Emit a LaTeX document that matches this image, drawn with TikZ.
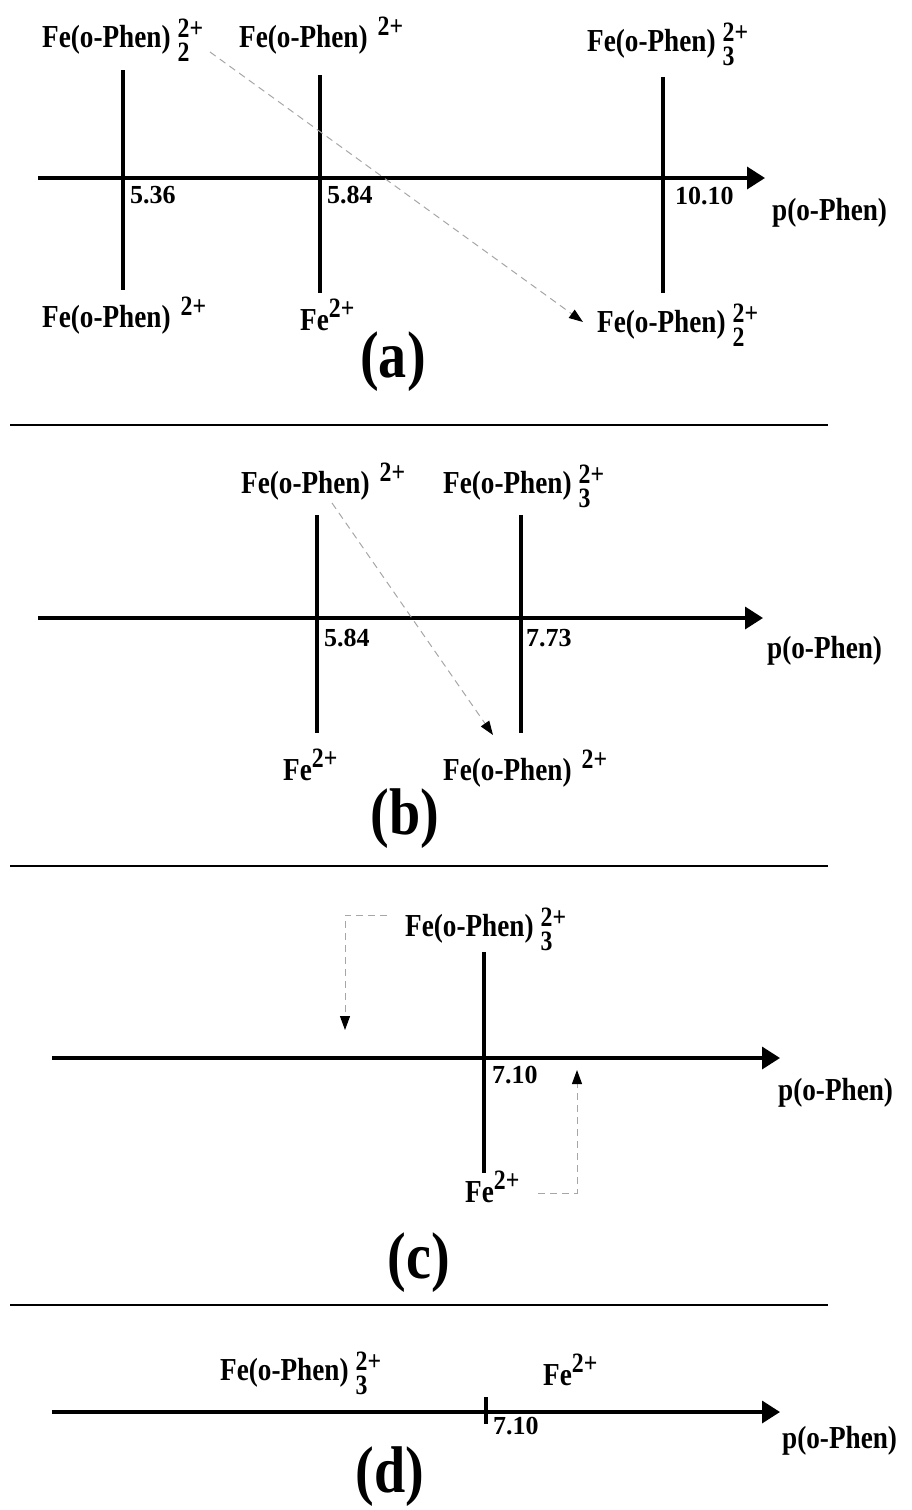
\documentclass[tikz,border=0pt]{standalone}
\usepackage{fontspec}
\setmainfont{Liberation Serif}
\newfontfamily\lblfont[FakeStretch=0.85]{Liberation Serif}
\usetikzlibrary{arrows.meta}
\newcommand\scripts[3]{% raise, sub, sup
  \rlap{\raisebox{-14pt}{\fontsize{28}{28}\selectfont #2}}\raisebox{#1}{\fontsize{28}{28}\selectfont #3}}
\newcommand\FePhen[3]{Fe(o-Phen)\hspace{#1}\scripts{10pt}{#2}{#3}}
\newcommand\FePhenS{Fe(o-Phen)\hspace{10pt}\scripts{12pt}{}{2+}}
\newcommand\FeIon{Fe\scripts{13pt}{}{2+}}
\tikzset{
  lab/.style={inner sep=0pt, anchor=base west, font=\lblfont\bfseries\fontsize{32}{32}\selectfont},
  num/.style={inner sep=0pt, anchor=base west, font=\bfseries\fontsize{26}{26}\selectfont},
  panel/.style={inner sep=0pt, anchor=base, font=\lblfont\bfseries\fontsize{66}{66}\selectfont},
  axis/.style={line width=3.5pt, -{Triangle[length=18pt,width=22pt]}},
  vline/.style={line width=3.5pt},
  sep/.style={line width=2.5pt},
  dsh/.style={gray!70, line width=1pt, dash pattern=on 7pt off 5pt, -{Triangle[length=14pt,width=10pt,color=black]}}
}
\begin{document}
\begin{tikzpicture}[x=1pt,y=-1pt]
\useasboundingbox (0,0) rectangle (912,1510);
% ---------- (a)
\coordinate (a0) at (38,178); \coordinate (a1) at (765,178);
\draw[axis] (a0) -- (a1);
\coordinate (av1t) at (123,70); \coordinate (av1b) at (123,290);
\coordinate (av2t) at (320,75); \coordinate (av2b) at (320,293);
\coordinate (av3t) at (663,77); \coordinate (av3b) at (663,293);
\draw[vline] (av1t) -- (av1b);
\draw[vline] (av2t) -- (av2b);
\draw[vline] (av3t) -- (av3b);
\node[lab] (aT1) at (42,47) {\FePhen{7pt}{2}{2+}};
\node[lab] (aT2) at (239,47) {\FePhenS};
\node[lab] (aT3) at (587,51) {\FePhen{7pt}{3}{2+}};
\node[num] (an1) at (130,203) {5.36};
\node[num] (an2) at (327,203) {5.84};
\node[num] (an3) at (675,204) {10.10};
\node[lab] (ap) at (772,220) {p(o-Phen)};
\node[lab] (aB1) at (42,327) {\FePhenS};
\node[lab] (aB2) at (300,330) {\FeIon};
\node[lab] (aB3) at (597,332) {\FePhen{7pt}{2}{2+}};
\coordinate (ad0) at (210,52); \coordinate (ad1) at (583,322);
\draw[dsh] (ad0) -- (ad1);
\node[panel] (pa) at (393,377) {(a)};
\coordinate (s1a) at (10,425); \coordinate (s1b) at (828,425);
\draw[sep] (s1a) -- (s1b);
% ---------- (b)
\coordinate (b0) at (38,618); \coordinate (b1) at (763,618);
\draw[axis] (b0) -- (b1);
\coordinate (bv1t) at (317,515); \coordinate (bv1b) at (317,733);
\coordinate (bv2t) at (521,515); \coordinate (bv2b) at (521,733);
\draw[vline] (bv1t) -- (bv1b);
\draw[vline] (bv2t) -- (bv2b);
\node[lab] (bT1) at (241,493) {\FePhenS};
\node[lab] (bT2) at (443,493) {\FePhen{7pt}{3}{2+}};
\node[num] (bn1) at (324,646) {5.84};
\node[num] (bn2) at (526,646) {7.73};
\node[lab] (bp) at (767,658) {p(o-Phen)};
\node[lab] (bB1) at (283,780) {\FeIon};
\node[lab] (bB2) at (443,780) {\FePhenS};
\coordinate (bd0) at (332,503); \coordinate (bd1) at (493,735);
\draw[dsh] (bd0) -- (bd1);
\node[panel] (pb) at (405,834) {(b)};
\coordinate (s2a) at (10,866); \coordinate (s2b) at (828,866);
\draw[sep] (s2a) -- (s2b);
% ---------- (c)
\coordinate (c0) at (52,1058); \coordinate (c1) at (780,1058);
\draw[axis] (c0) -- (c1);
\coordinate (cvt) at (484,952); \coordinate (cvb) at (484,1173);
\draw[vline] (cvt) -- (cvb);
\node[lab] (cT) at (405,936) {\FePhen{7pt}{3}{2+}};
\node[num] (cn) at (492,1083) {7.10};
\node[lab] (cp) at (778,1100) {p(o-Phen)};
\node[lab] (cB) at (465,1202) {\FeIon};
\coordinate (cd0) at (387,915); \coordinate (cd1) at (345,915); \coordinate (cd2) at (345,1030);
\draw[dsh] (cd0) -- (cd1) -- (cd2);
\coordinate (ce0) at (538,1193); \coordinate (ce1) at (577,1193); \coordinate (ce2) at (577,1070);
\draw[dsh] (ce0) -- (ce1) -- (ce2);
\node[panel] (pc) at (419,1278) {(c)};
\coordinate (s3a) at (10,1305); \coordinate (s3b) at (828,1305);
\draw[sep] (s3a) -- (s3b);
% ---------- (d)
\coordinate (d0) at (52,1412); \coordinate (d1) at (780,1412);
\draw[axis] (d0) -- (d1);
\coordinate (dtt) at (486,1397); \coordinate (dtb) at (486,1424);
\draw[vline] (dtt) -- (dtb);
\node[lab] (dT1) at (220,1380) {\FePhen{7pt}{3}{2+}};
\node[lab] (dT2) at (543,1385) {\FeIon};
\node[num] (dn) at (493,1434) {7.10};
\node[lab] (dp) at (782,1448) {p(o-Phen)};
\node[panel] (pd) at (390,1492) {(d)};
\end{tikzpicture}
\end{document}
